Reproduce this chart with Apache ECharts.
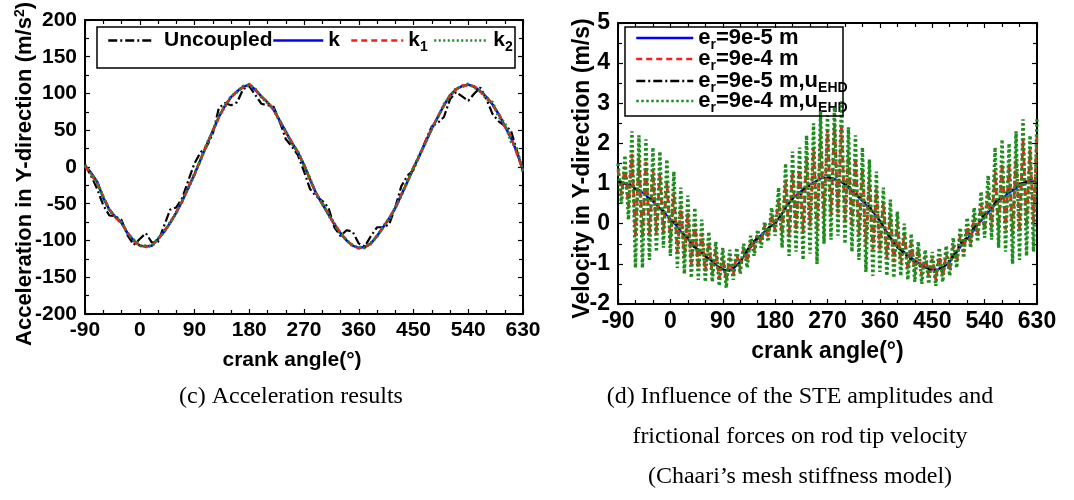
<!DOCTYPE html>
<html><head><meta charset="utf-8">
<script src="https://cdn.jsdelivr.net/npm/echarts@6/dist/echarts.min.js"></script>
<style>html,body{margin:0;padding:0;background:#fff}#c{width:1074px;height:500px}</style>
</head><body><div id="c"></div>
<script>
// ---------- data ----------
const angles10 = [-90,-80,-70,-60,-50,-40,-30,-20,-10,0,10,20,30,40,50,60,70,80,90,100,110,120,130,140,150,160,170,180,190,200,210,220,230,240,250,260,270,280,290,300,310,320,330,340,350,360,370,380,390,400,410,420,430,440,450,460,470,480,490,500,510,520,530,540,550,560,570,580,590,600,610,620,630];

// (c) acceleration, m/s^2
const accUncoupled = [2,-12,-30,-52,-66,-67,-72,-93,-106,-98,-90,-103,-102,-80,-58,-55,-42,-18,5,20,28,45,80,87,84,88,106,110,98,86,84,82,62,38,28,16,-6,-30,-40,-46,-55,-82,-94,-86,-88,-104,-108,-94,-82,-82,-78,-55,-26,-12,-4,16,36,55,60,68,92,102,96,90,100,108,92,72,62,56,50,22,-6];
const accK  = [2,-8,-20,-42,-58,-68,-76,-90,-100,-107,-108,-107,-98,-88,-76,-62,-46,-28,-10,10,30,49,68,83,95,103,109,112,105,96,88,78,63,48,33,20,3,-17,-36,-50,-64,-78,-90,-100,-107,-110,-109,-104,-94,-82,-70,-56,-38,-20,-1,16,34,52,68,84,97,106,110,112,109,103,95,85,72,56,40,20,-5];
const accK1 = [1,-10,-22,-40,-57,-69,-77,-89,-101,-106,-109,-106,-99,-87,-77,-61,-47,-27,-11,11,29,50,67,84,94,104,108,113,106,95,89,77,64,47,34,19,4,-18,-35,-51,-63,-79,-89,-101,-106,-111,-108,-105,-93,-83,-69,-57,-37,-21,0,15,35,51,69,83,98,105,111,111,110,102,96,84,73,55,42,18,-3];
const accK2 = [3,-9,-21,-41,-59,-68,-75,-91,-99,-107,-107,-108,-97,-89,-75,-63,-45,-29,-9,9,31,48,69,82,96,102,110,111,106,95,87,79,62,49,32,21,2,-16,-37,-49,-65,-77,-91,-99,-108,-109,-110,-103,-95,-81,-71,-55,-39,-19,-2,17,33,53,67,85,96,107,109,113,108,104,92,88,68,60,35,25,-8];

// (d) velocity, m/s
const velSmall = [1.08,1.02,0.96,0.88,0.80,0.68,0.55,0.42,0.27,0.12,-0.05,-0.22,-0.38,-0.55,-0.68,-0.80,-0.92,-1.04,-1.14,-1.17,-1.10,-0.93,-0.75,-0.55,-0.38,-0.22,-0.10,0.02,0.20,0.45,0.62,0.76,0.88,0.98,1.06,1.13,1.15,1.13,1.07,0.97,0.84,0.70,0.56,0.42,0.26,0.08,-0.16,-0.38,-0.55,-0.68,-0.80,-0.91,-1.01,-1.09,-1.14,-1.14,-1.08,-0.96,-0.76,-0.55,-0.38,-0.20,0.00,0.17,0.34,0.50,0.63,0.75,0.84,0.93,1.00,1.06,1.05];
const velSmallEHD = [1.05,1.00,0.98,0.86,0.82,0.66,0.58,0.40,0.30,0.08,0.02,-0.22,-0.35,-0.58,-0.66,-0.82,-0.90,-1.06,-1.13,-1.19,-1.08,-0.97,-0.70,-0.47,-0.36,-0.24,-0.08,0.00,0.22,0.43,0.62,0.66,0.88,0.95,1.05,1.14,1.18,1.10,1.08,0.98,0.90,0.72,0.58,0.48,0.22,0.08,-0.18,-0.40,-0.60,-0.70,-0.86,-0.94,-1.07,-1.10,-1.18,-1.12,-1.07,-0.90,-0.72,-0.46,-0.34,-0.13,0.06,0.24,0.36,0.57,0.66,0.82,0.86,1.00,1.03,1.12,1.04];

const angles6 = [-90,-84,-78,-72,-66,-60,-54,-48,-42,-36,-30,-24,-18,-12,-6,0,6,12,18,24,30,36,42,48,54,60,66,72,78,84,90,96,102,108,114,120,126,132,138,144,150,156,162,168,174,180,186,192,198,204,210,216,222,228,234,240,246,252,258,264,270,276,282,288,294,300,306,312,318,324,330,336,342,348,354,360,366,372,378,384,390,396,402,408,414,420,426,432,438,444,450,456,462,468,474,480,486,492,498,504,510,516,522,528,534,540,546,552,558,564,570,576,582,588,594,600,606,612,618,624,630];
const velLarge = [1.33,0.72,1.42,0.44,1.74,-0.31,1.65,-0.35,1.54,-0.29,1.36,-0.23,1.24,-0.24,1.04,-0.44,0.78,-0.70,0.47,-0.86,0.27,-1.00,0.01,-1.10,-0.23,-1.19,-0.47,-1.25,-0.67,-1.36,-0.82,-1.42,-0.85,-1.28,-0.77,-1.12,-0.63,-0.94,-0.42,-0.67,-0.24,-0.47,-0.05,-0.32,0.22,-0.17,0.59,-0.26,1.06,-0.28,1.32,-0.15,1.44,-0.21,1.67,-0.07,1.90,-0.18,2.20,0.15,2.35,0.22,2.50,0.26,2.45,0.09,1.80,-0.09,1.62,-0.28,1.37,-0.52,1.13,-0.64,0.88,-0.66,0.55,-0.83,0.26,-0.96,-0.01,-1.00,-0.26,-1.13,-0.47,-1.21,-0.63,-1.29,-0.80,-1.33,-0.87,-1.39,-0.82,-1.31,-0.75,-1.17,-0.56,-0.96,-0.31,-0.71,-0.07,-0.48,0.16,-0.30,0.50,-0.15,0.82,-0.10,1.32,-0.15,1.50,-0.15,1.50,-0.28,1.73,-0.17,2.10,-0.08,1.85,0.00,2.20];
const velLargeEHD = [1.50,0.50,1.70,0.10,2.30,-1.10,2.20,-1.10,2.10,-0.90,1.90,-0.70,1.80,-0.60,1.60,-0.80,1.30,-1.10,0.90,-1.25,0.70,-1.35,0.40,-1.40,0.10,-1.45,-0.20,-1.45,-0.45,-1.55,-0.60,-1.60,-0.65,-1.40,-0.60,-1.25,-0.50,-1.10,-0.30,-0.80,-0.15,-0.60,0.05,-0.45,0.40,-0.30,0.90,-0.60,1.50,-0.80,1.80,-0.70,1.90,-0.90,2.20,-0.75,2.50,-1.00,2.80,-0.50,2.70,-0.40,2.90,-0.30,3.05,-0.50,2.40,-0.70,2.20,-0.90,1.90,-1.20,1.60,-1.30,1.30,-1.20,0.90,-1.30,0.60,-1.35,0.30,-1.30,0.00,-1.40,-0.25,-1.45,-0.45,-1.50,-0.65,-1.50,-0.70,-1.55,-0.60,-1.45,-0.55,-1.30,-0.35,-1.10,-0.10,-0.85,0.15,-0.60,0.40,-0.45,0.80,-0.35,1.20,-0.40,1.90,-0.60,2.10,-0.70,2.00,-1.00,2.30,-0.90,2.60,-0.80,2.20,-0.70,2.60];

const xTicks = [-90,0,90,180,270,360,450,540,630];

// ---------- helpers ----------
const zip = (xs, ys) => xs.map((x, i) => [x, ys[i]]);
const FONT = 'Liberation Sans';
const BLUE = '#0000ff', RED = '#ff1a1a', GREEN = '#1e8c1e', BLACK = '#000000';
const DASHDOT = [9, 3, 2, 3];

function axisBase(fs) {
  return {
    nameMoveOverlap: false,
    axisLine: { show: true, onZero: false, lineStyle: { color: '#000', width: 2 } },
    axisTick: { show: true, inside: true, length: 5, lineStyle: { color: '#000', width: 1.2 } },
    minorTick: { show: true, splitNumber: 3, length: 4, lineStyle: { color: '#000', width: 1.2 } },
    splitLine: { show: false },
    axisLabel: { color: '#000', fontFamily: FONT, fontWeight: 'bold', fontSize: fs }
  };
}
function xAx(grid, fs, top) {
  const a = axisBase(fs);
  return Object.assign(a, {
    type: 'value', gridIndex: grid, min: xTicks[0], max: xTicks[xTicks.length - 1], interval: 90,
    position: top ? 'top' : 'bottom',
    axisLabel: Object.assign(a.axisLabel, { show: !top, margin: 6 })
  });
}
function yAx(grid, fs, right, min, max, itv, minorSplit) {
  const a = axisBase(fs);
  a.minorTick.splitNumber = minorSplit;
  return Object.assign(a, {
    type: 'value', gridIndex: grid, min: min, max: max, interval: itv,
    position: right ? 'right' : 'left',
    axisLabel: Object.assign(a.axisLabel, { show: !right, margin: 8 })
  });
}
function richSet(fs) {
  return {
    t: { fontFamily: FONT, fontWeight: 'bold', fontSize: fs, color: '#000', lineHeight: fs + 3 },
    s: { fontFamily: FONT, fontWeight: 'bold', fontSize: Math.round(fs * 0.65), color: '#000', padding: [Math.round(fs * 0.62), 0, 0, 0], verticalAlign: 'top' },
    sup: { fontFamily: FONT, fontWeight: 'bold', fontSize: Math.round(fs * 0.62), color: '#000', padding: [1, 0, 0, 0], verticalAlign: 'top' }
  };
}
const legendLabels = {
  'Uncoupled': '{t| Uncoupled}',
  'k': '{t|k}',
  'k1': '{t|k}{s|1}',
  'k2': '{t|k}{s|2}',
  'er=9e-5 m': '{t|e}{s|r}{t|=9e-5 m}',
  'er=9e-4 m': '{t|e}{s|r}{t|=9e-4 m}',
  'er=9e-5 m,uEHD': '{t|e}{s|r}{t|=9e-5 m,u}{s|EHD}',
  'er=9e-4 m,uEHD': '{t|e}{s|r}{t|=9e-4 m,u}{s|EHD}'
};
function leg(name, left, top, w, fs) {
  return {
    data: [name], left: left, top: top, padding: 0, itemWidth: w, itemHeight: 10,
    selectedMode: false, lineStyle: { width: 2.5 },
    itemStyle: { opacity: 0, borderWidth: 0 },
    formatter: n => legendLabels[n],
    textStyle: { fontFamily: FONT, fontWeight: 'bold', fontSize: fs, color: '#000', rich: richSet(fs) }
  };
}
function line(name, xs, ys, xi, yi, color, type, width, z) {
  return {
    name: name, type: 'line', xAxisIndex: xi, yAxisIndex: yi, data: zip(xs, ys),
    symbol: 'none', showSymbol: false, clip: true, z: z, animation: false,
    lineStyle: { color: color, width: width, type: type }, itemStyle: { color: color }
  };
}

const chart = echarts.init(document.getElementById('c'), null, { renderer: 'canvas' });
const rL = richSet(22);
const option = {
  animation: false,
  backgroundColor: '#fff',
  textStyle: { fontFamily: FONT },
  grid: [
    { left: 85, top: 15, width: 438, height: 299, containLabel: false },
    { left: 618, top: 23, width: 419, height: 281, containLabel: false }
  ],
  xAxis: [
    Object.assign(xAx(0, 21, false), { name: 'crank angle(°)', nameLocation: 'middle', nameGap: 36,
      nameTextStyle: { color: '#000', fontFamily: FONT, fontWeight: 'bold', fontSize: 21, padding: [0, 24, 0, 0] } }),
    xAx(0, 21, true),
    Object.assign(xAx(1, 23, false), { name: 'crank angle(°)', nameLocation: 'middle', nameGap: 36,
      nameTextStyle: { color: '#000', fontFamily: FONT, fontWeight: 'bold', fontSize: 23 } }),
    xAx(1, 23, true)
  ],
  yAxis: [
    Object.assign(yAx(0, 21, false, -200, 200, 50, 2), { name: '{t|Acceleration in Y-direction (m/s}{sup|2}{t|)}',
      nameLocation: 'middle', nameRotate: 90, nameGap: 48,
      nameTextStyle: { color: '#000', fontFamily: FONT, fontWeight: 'bold', fontSize: 22, rich: rL, padding: [0, 14, 0, 0] } }),
    yAx(0, 21, true, -200, 200, 50, 2),
    Object.assign(yAx(1, 23, false, -2, 5, 1, 2), { name: 'Velocity in Y-direction (m/s)',
      nameLocation: 'middle', nameRotate: 90, nameGap: 24,
      nameTextStyle: { color: '#000', fontFamily: FONT, fontWeight: 'bold', fontSize: 23, padding: [0, 10, 0, 0] } }),
    yAx(1, 23, true, -2, 5, 1, 2)
  ],
  legend: [
    leg('Uncoupled', 107, 30, 45, 21),
    leg('k', 272, 30, 50, 21),
    leg('k1', 350, 30, 52, 21),
    leg('k2', 433, 30, 54, 21),
    leg('er=9e-5 m', 635, 27, 57, 22),
    leg('er=9e-4 m', 635, 48, 57, 22),
    leg('er=9e-5 m,uEHD', 635, 70, 57, 22),
    leg('er=9e-4 m,uEHD', 635, 90, 57, 22)
  ],
  graphic: [
    { type: 'rect', shape: { x: 97, y: 27, width: 418, height: 41 }, style: { fill: 'none', stroke: '#000', lineWidth: 1.5 }, z: 100 },
    { type: 'rect', shape: { x: 625, y: 27, width: 218, height: 89 }, style: { fill: 'none', stroke: '#000', lineWidth: 1.5 }, z: 100 },
    { type: 'text', x: 291, y: 397, style: { text: '(c) Acceleration results', font: '24px "Liberation Serif"', fill: '#000', textAlign: 'center', textVerticalAlign: 'middle' } },
    { type: 'text', x: 800, y: 397, style: { text: '(d) Influence of the STE amplitudes and', font: '24px "Liberation Serif"', fill: '#000', textAlign: 'center', textVerticalAlign: 'middle' } },
    { type: 'text', x: 800, y: 437, style: { text: 'frictional forces on rod tip velocity', font: '24px "Liberation Serif"', fill: '#000', textAlign: 'center', textVerticalAlign: 'middle' } },
    { type: 'text', x: 800, y: 477, style: { text: '(Chaari\u2019s mesh stiffness model)', font: '24px "Liberation Serif"', fill: '#000', textAlign: 'center', textVerticalAlign: 'middle' } }
  ],
  series: [
    line('Uncoupled', angles10, accUncoupled, 0, 0, BLACK, DASHDOT, 2.2, 2),
    line('k', angles10, accK, 0, 0, BLUE, 'solid', 2.5, 3),
    line('k1', angles10, accK1, 0, 0, RED, [6, 4], 2.5, 4),
    line('k2', angles10, accK2, 0, 0, GREEN, [2, 2.5], 3, 5),
    line('er=9e-5 m', angles10, velSmall, 2, 2, BLUE, 'solid', 2, 2),
    line('er=9e-4 m', angles6, velLarge, 2, 2, RED, [6, 4], 2.8, 3),
    line('er=9e-5 m,uEHD', angles10, velSmallEHD, 2, 2, BLACK, DASHDOT, 2, 4),
    line('er=9e-4 m,uEHD', angles6, velLargeEHD, 2, 2, GREEN, [2.5, 2.5], 3.4, 5)
  ]
};
chart.setOption(option);
</script></body></html>
